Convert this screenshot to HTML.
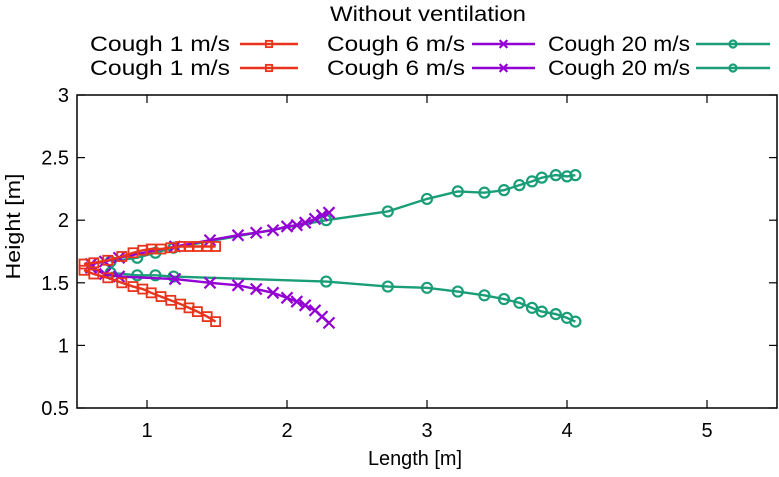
<!DOCTYPE html>
<html><head><meta charset="utf-8"><style>
body{margin:0;background:#fff;}
svg text{font-family:"Liberation Sans",sans-serif;fill:#000;}
</style></head><body>
<svg id="chart" width="779" height="472" xmlns="http://www.w3.org/2000/svg"></svg>
<script>
const xTicks=[1,2,3,4,5];
const yTicks=[0.5,1,1.5,2,2.5,3];
const redX=[0.55,0.62,0.72,0.82,0.9,0.97,1.03,1.1,1.17,1.24,1.3,1.36,1.43,1.49];
const redUp=[1.65,1.66,1.68,1.71,1.74,1.76,1.77,1.77,1.78,1.79,1.79,1.79,1.79,1.79];
const redLo=[1.60,1.57,1.54,1.50,1.47,1.45,1.42,1.39,1.36,1.33,1.30,1.27,1.23,1.19];
const purX=[0.6,0.7,0.8,1.2,1.45,1.65,1.78,1.9,2.0,2.07,2.13,2.2,2.25,2.3];
const purUp=[1.65,1.67,1.70,1.79,1.84,1.88,1.90,1.92,1.95,1.96,1.98,2.01,2.04,2.06];
const purLo=[1.62,1.57,1.55,1.53,1.50,1.48,1.45,1.42,1.38,1.35,1.32,1.28,1.23,1.18];
const grnX=[0.74,0.93,1.06,1.19,2.28,2.72,3.0,3.22,3.41,3.55,3.66,3.75,3.82,3.92,4.0,4.06];
const grnUp=[1.67,1.70,1.74,1.78,2.00,2.07,2.17,2.23,2.22,2.24,2.28,2.31,2.34,2.36,2.35,2.36];
const grnLo=[1.58,1.56,1.56,1.55,1.51,1.47,1.46,1.43,1.40,1.37,1.34,1.30,1.27,1.25,1.22,1.19];

const NS="http://www.w3.org/2000/svg";
const svg=document.getElementById('chart');
const L=77,R=777,T=95,B=408;
const sx=v=>L+(v-0.5)*(R-L)/5;
const sy=v=>B-(v-0.5)*(B-T)/2.5;
function mk(tag,attrs,parent){const e=document.createElementNS(NS,tag);for(const k in attrs)e.setAttribute(k,attrs[k]);(parent||svg).appendChild(e);return e;}

const frame=mk('rect',{x:L,y:T,width:R-L,height:B-T,fill:'none',stroke:'#000','stroke-width':1.5});


xTicks.forEach(v=>{
  const x=sx(v);
  const t1=mk('line',{x1:x,y1:B,x2:x,y2:B-8,stroke:'#000','stroke-width':1.2});
  
  
  mk('line',{x1:x,y1:T,x2:x,y2:T+8,stroke:'#000','stroke-width':1.2});
  const tx=mk('text',{x:x,y:B+29,'text-anchor':'middle','font-size':20});
  tx.textContent=v;
  
  
});
yTicks.forEach(v=>{
  const y=sy(v);
  const t1=mk('line',{x1:L,y1:y,x2:L+8,y2:y,stroke:'#000','stroke-width':1.2});
  
  
  mk('line',{x1:R,y1:y,x2:R-8,y2:y,stroke:'#000','stroke-width':1.2});
  const tx=mk('text',{x:L-8,y:y+7,'text-anchor':'end','font-size':20});
  tx.textContent=v;
  
  
});
const xl=mk('text',{x:415,y:465,'text-anchor':'middle','font-size':20,textLength:94,lengthAdjust:'spacingAndGlyphs'});
xl.textContent='Length [m]';


const yl=mk('text',{x:0,y:0,'text-anchor':'middle','font-size':20,textLength:106,lengthAdjust:'spacingAndGlyphs',transform:'translate(20,'+((T+B)/2-25)+') rotate(-90)'});
yl.textContent='Height [m]';



function marker(kind,x,y,c,g,s){
  s=s||1;
  if(kind==='sq') mk('rect',{x:x-4.5*s,y:y-4.5*s,width:9*s,height:9*s,fill:'none',stroke:c,'stroke-width':1.8},g);
  else if(kind==='x'){mk('path',{d:`M${x-5.5*s} ${y-5.5*s}L${x+5.5*s} ${y+5.5*s}M${x-5.5*s} ${y+5.5*s}L${x+5.5*s} ${y-5.5*s}`,stroke:c,'stroke-width':2.2},g);}
  else mk('circle',{cx:x,cy:y,r:5*s,fill:'none',stroke:c,'stroke-width':2.2},g);
}
function series(xs,ys,c,kind,name){
  const g=mk('g',{});
  
  
  mk('polyline',{points:xs.map((v,i)=>sx(v)+','+sy(ys[i])).join(' '),fill:'none',stroke:c,'stroke-width':2.4},g);
  xs.forEach((v,i)=>marker(kind,sx(v),sy(ys[i]),c,g));
}
series(grnX,grnUp,'#1a9e77','o','series-cough-20-upper');
series(grnX,grnLo,'#1a9e77','o','series-cough-20-lower');
series(purX,purUp,'#9400d3','x','series-cough-6-upper');
series(purX,purLo,'#9400d3','x','series-cough-6-lower');
series(redX,redUp,'#e8341c','sq','series-cough-1-upper');
series(redX,redLo,'#e8341c','sq','series-cough-1-lower');

const title=mk('text',{x:428,y:21,'text-anchor':'middle','font-size':21,textLength:196,lengthAdjust:'spacingAndGlyphs'});
title.textContent='Without ventilation';


const leg=[['Cough 1 m/s','#e8341c','sq',90,140,240,298],['Cough 6 m/s','#9400d3','x',327,138,472,535],['Cough 20 m/s','#1a9e77','o',548,142,696,770]];
[44,68].forEach(yy=>{
  leg.forEach(l=>{
    const g=mk('g',{});
    
    
    const t=mk('text',{x:l[3],y:yy+7,'font-size':21,textLength:l[4],lengthAdjust:'spacingAndGlyphs'},g);
    t.textContent=l[0];
    mk('line',{x1:l[5],y1:yy,x2:l[6],y2:yy,stroke:l[1],'stroke-width':2.4},g);
    marker(l[2],(l[5]+l[6])/2,yy,l[1],g,0.7);
  });
});
</script>
</body></html>
